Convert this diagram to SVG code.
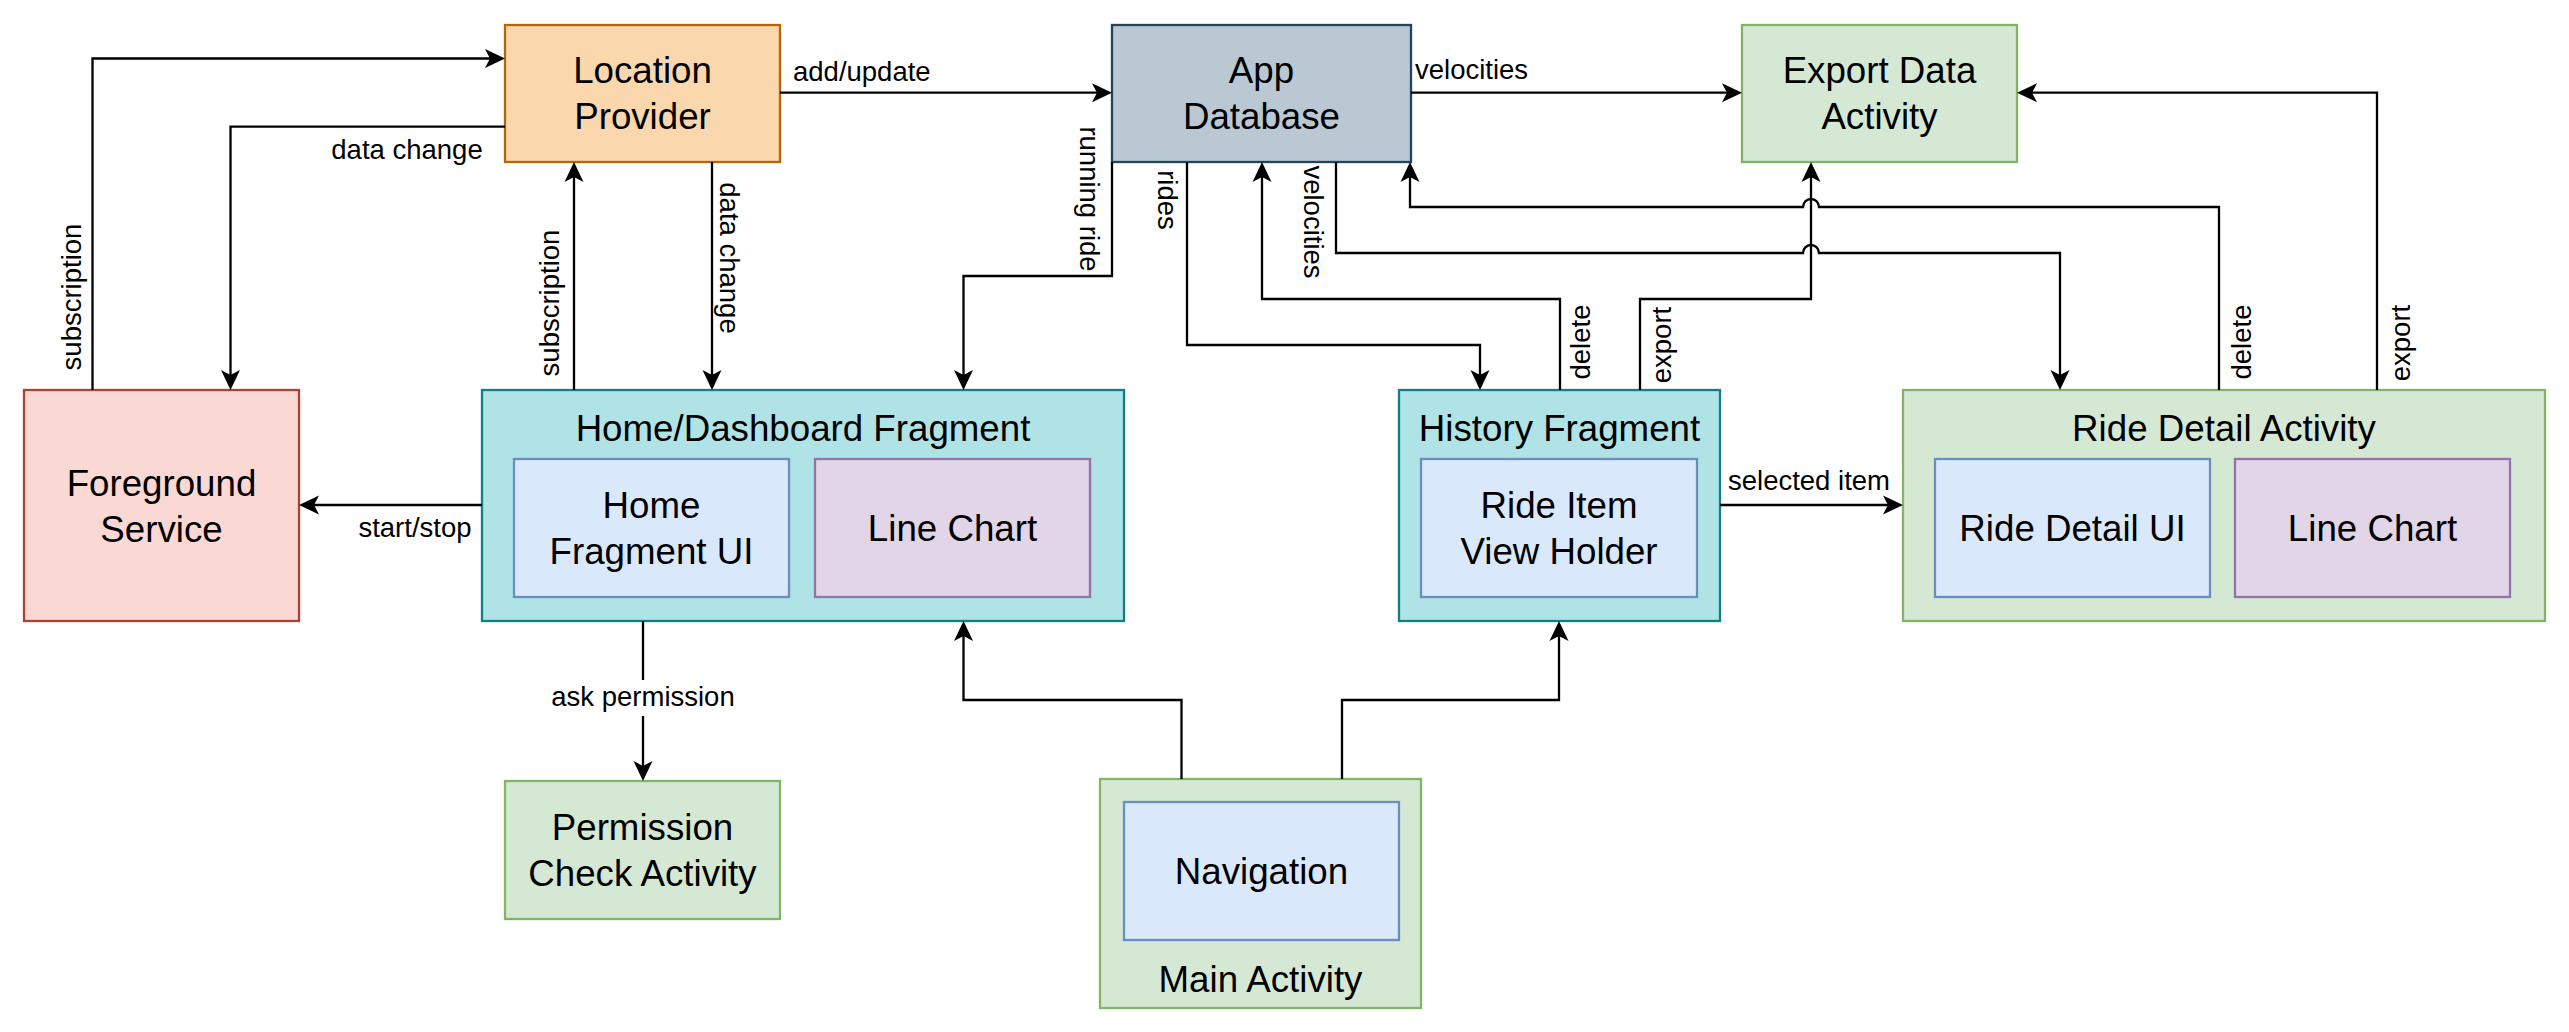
<svg xmlns="http://www.w3.org/2000/svg" width="2569" height="1032" viewBox="0 0 2569 1032">
<defs>
<style>
.n{stroke-width:2.3}
.t{font-family:"Liberation Sans",Arial,Helvetica,sans-serif;font-size:36.7px;fill:#000;text-anchor:middle}
.l{font-family:"Liberation Sans",Arial,Helvetica,sans-serif;font-size:27.5px;fill:#000}
.m{text-anchor:middle}
.e{fill:none;stroke:#000;stroke-width:2.3;marker-end:url(#arr)}
.orange{fill:#fad7ac;stroke:#b46504}
.grey{fill:#bac8d3;stroke:#23445d}
.green{fill:#d5e8d4;stroke:#82b366}
.red{fill:#fad9d5;stroke:#ae4132}
.teal{fill:#b0e3e6;stroke:#0e8088}
.blue{fill:#dae8fc;stroke:#6c8ebf}
.purple{fill:#e1d5e7;stroke:#9673a6}
</style>
<marker id="arr" viewBox="0 0 20 20" refX="10" refY="10" markerWidth="20" markerHeight="20" markerUnits="userSpaceOnUse" orient="auto">
<path d="M20,10 L0,0.5 L5,10 L0,19.5 Z" fill="#000"/>
</marker>
</defs>
<rect width="2569" height="1032" fill="#fff"/>

<g id="location-provider">
<rect class="n orange" x="505" y="25" width="275" height="137"/>
<text class="t" x="642.5" y="82.5">Location</text>
<text class="t" x="642.5" y="128.5">Provider</text>
</g>
<g id="app-database">
<rect class="n grey" x="1112" y="25" width="299" height="137"/>
<text class="t" x="1261.5" y="82.5">App</text>
<text class="t" x="1261.5" y="128.5">Database</text>
</g>
<g id="export-data-activity">
<rect class="n green" x="1742" y="25" width="275" height="137"/>
<text class="t" x="1879.5" y="82.5">Export Data</text>
<text class="t" x="1879.5" y="128.5">Activity</text>
</g>
<g id="foreground-service">
<rect class="n red" x="24" y="390" width="275" height="231"/>
<text class="t" x="161.5" y="495.5">Foreground</text>
<text class="t" x="161.5" y="541.5">Service</text>
</g>
<g id="home-dashboard-fragment">
<rect class="n teal" x="482" y="390" width="642" height="231"/>
<text class="t" x="803" y="441">Home/Dashboard Fragment</text>
<g id="home-fragment-ui">
<rect class="n blue" x="514" y="459" width="275" height="138"/>
<text class="t" x="651.5" y="518">Home</text>
<text class="t" x="651.5" y="564">Fragment UI</text>
</g>
<g id="home-line-chart">
<rect class="n purple" x="815" y="459" width="275" height="138"/>
<text class="t" x="952.5" y="541">Line Chart</text>
</g>
</g>
<g id="history-fragment">
<rect class="n teal" x="1399" y="390" width="321" height="231"/>
<text class="t" x="1559.5" y="441">History Fragment</text>
<g id="ride-item-view-holder">
<rect class="n blue" x="1421" y="459" width="276" height="138"/>
<text class="t" x="1559" y="518">Ride Item</text>
<text class="t" x="1559" y="564">View Holder</text>
</g>
</g>
<g id="ride-detail-activity">
<rect class="n green" x="1903" y="390" width="642" height="231"/>
<text class="t" x="2224" y="441">Ride Detail Activity</text>
<g id="ride-detail-ui">
<rect class="n blue" x="1935" y="459" width="275" height="138"/>
<text class="t" x="2072.5" y="541">Ride Detail UI</text>
</g>
<g id="ride-line-chart">
<rect class="n purple" x="2235" y="459" width="275" height="138"/>
<text class="t" x="2372.5" y="541">Line Chart</text>
</g>
</g>
<g id="permission-check-activity">
<rect class="n green" x="505" y="781" width="275" height="138"/>
<text class="t" x="642.5" y="840">Permission</text>
<text class="t" x="642.5" y="886">Check Activity</text>
</g>
<g id="main-activity">
<rect class="n green" x="1100" y="779" width="321" height="229"/>
<text class="t" x="1260.5" y="992">Main Activity</text>
<g id="navigation">
<rect class="n blue" x="1124" y="802" width="275" height="138"/>
<text class="t" x="1261.5" y="884">Navigation</text>
</g>
</g>

<g id="connectors">
<path class="e" d="M92.5,390 V58.5 H495"/>
<text class="l m" transform="translate(71,297) rotate(-90)" y="10">subscription</text>

<path class="e" d="M505,126.7 H230.5 V380"/>
<text class="l m" x="407" y="159">data change</text>

<path class="e" d="M574,390 V172"/>
<text class="l m" transform="translate(549,303) rotate(-90)" y="10">subscription</text>

<path class="e" d="M712,162 V380"/>
<text class="l m" transform="translate(730,258) rotate(90)" y="10">data change</text>

<path class="e" d="M780,92.7 H1102"/>
<text class="l" x="793" y="81">add/update</text>

<path class="e" d="M1411,92.7 H1732"/>
<text class="l" x="1415" y="79">velocities</text>

<path class="e" d="M1112,162 V276 H963.5 V380"/>
<text class="l m" transform="translate(1090,199) rotate(90)" y="10">running ride</text>

<path class="e" d="M1187,162 V345 H1480 V380"/>
<text class="l m" transform="translate(1168,200) rotate(90)" y="10">rides</text>

<path class="e" d="M1560,390 V299 H1262 V172"/>
<text class="l m" transform="translate(1580,342) rotate(-90)" y="10">delete</text>

<path class="e" d="M1640,390 V299 H1811 V172"/>
<text class="l m" transform="translate(1661,345) rotate(-90)" y="10">export</text>

<path class="e" d="M1336,162 V253 H1803 A8,8 0 0 1 1819,253 H2060 V380"/>
<text class="l m" transform="translate(1314,222) rotate(90)" y="10">velocities</text>

<path class="e" d="M2219,390 V207 H1819 A8,8 0 0 0 1803,207 H1410 V172"/>
<text class="l m" transform="translate(2241,342) rotate(-90)" y="10">delete</text>

<path class="e" d="M2377,390 V92.7 H2027"/>
<text class="l m" transform="translate(2400,343) rotate(-90)" y="10">export</text>

<path class="e" d="M482,505 H309"/>
<text class="l m" x="415" y="537">start/stop</text>

<path class="e" d="M1720,505 H1893"/>
<text class="l m" x="1809" y="490">selected item</text>

<path class="e" d="M643,621 V771"/>
<rect x="550" y="680" width="186" height="36" fill="#fff"/>
<text class="l m" x="643" y="706">ask permission</text>

<path class="e" d="M1181.5,779 V700 H963.5 V631"/>
<path class="e" d="M1342,779 V700 H1559 V631"/>
</g>
</svg>
